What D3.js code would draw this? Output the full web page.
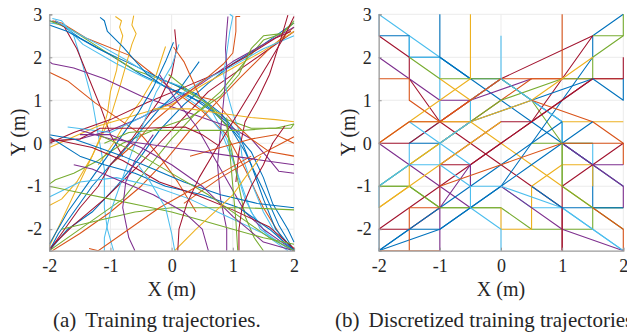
<!DOCTYPE html>
<html>
<head>
<meta charset="utf-8">
<script src="https://cdn.jsdelivr.net/npm/d3@7/dist/d3.min.js"></script>
<style>
  html, body { margin: 0; padding: 0; background: #fff; }
  svg { display: block; }
  text { font-family: "Liberation Serif", "Times New Roman", serif; fill: #262626; }
</style>
</head>
<body>
<div id="wrap"></div>
<script>
// matlab default line colours
const lineColors = { b: "#0072BD", o: "#D95319", y: "#EDB120", p: "#7E2F8E", g: "#77AC30", c: "#4DBEEE", r: "#A2142F" };

const xTicks = [-2, -1, 0, 1, 2];
const yTicks = [-2, -1, 0, 1, 2, 3];
const xDomain = [-2, 2];
const yDomain = [-2.5, 3];

// (a) recorded training trajectories, [x, y] in metres
const trainColors = ["b","o","c","g","c","r","b","c","y","y","y","b","p","o",
  "b","r","g","o","p","r","y","c","g","r","c","p","o","b","r","b","c","o","p","g",
  "g","y","o","o","r","p","b","b","c","r","p","g","g","g","y","r","p","p","r","g","o","c"];
const trainPaths = [
  [[-2,2.85],[-1.85,2.8],[-1.5,2.45],[-1.0,2.05],[-0.5,1.6],[0,1.25],[0.5,0.95],[0.9,0.5],[1.2,-0.2],[1.5,-1.1],[1.75,-1.9],[2,-2.5]],
  [[-1.95,2.85],[-1.8,2.8],[-1.4,2.45],[-0.7,2.05],[-0.3,1.6],[0.1,1.15],[0.5,0.75],[0.9,0.2],[1.2,-0.6],[1.5,-1.5],[1.8,-2.2],[2,-2.45]],
  [[-2,2.8],[-1.75,2.75],[-1.45,2.3],[-0.9,1.85],[-0.4,1.5],[0.1,1.2],[0.5,0.8],[0.8,0.3],[1.0,-0.4],[1.2,-1.3],[1.45,-2.0],[1.95,-2.5]],
  [[-2,2.85],[-1.65,2.65],[-1.1,2.15],[-0.6,1.7],[0,1.4],[0.5,1.0],[0.9,0.55],[1.3,0.35],[1.7,0.35],[2,0.45]],
  [[-1.95,2.9],[-1.8,2.85],[-1.6,2.5],[-1.45,1.8],[-1.3,1.0],[-1.2,0.2],[-1.1,-0.6],[-1.1,-1.5],[-1.05,-2.0],[-0.95,-2.5]],
  [[-1.9,2.85],[-1.75,2.7],[-1.55,2.2],[-1.35,1.5],[-1.15,0.8],[-1.0,0.2],[-0.8,-0.3]],
  [[-2,2.75],[-1.7,2.6],[-1.2,2.2],[-0.6,1.8],[-0.1,1.45],[0.4,1.15],[0.8,0.7],[1.1,0.2],[1.3,-0.5],[1.5,-1.3],[1.7,-2.0],[2,-2.5]],
  [[-1.9,2.85],[-1.6,2.6],[-1.2,2.3],[-0.7,1.9],[-0.3,1.55],[0.2,1.3],[0.6,0.9],[0.9,0.1],[1.1,-0.8],[1.3,-1.6],[1.6,-2.2],[1.9,-2.5]],
  [[-0.92,2.95],[-0.82,2.85],[-0.85,2.7],[-0.8,2.5],[-0.85,2.2],[-0.9,1.7],[-1.0,1.2],[-1.05,0.7],[-1.15,0.2],[-1.3,-0.3],[-1.55,-0.9],[-1.8,-1.3],[-2,-1.45]],
  [[-0.62,2.97],[-0.65,2.75],[-0.58,2.55],[-0.65,2.3],[-0.75,1.8],[-0.85,1.3],[-1.0,0.6],[-1.2,0.0],[-1.4,-0.6],[-1.6,-1.2],[-1.8,-1.8],[-2,-2.4]],
  [[-0.1,2.25],[-0.25,1.6],[-0.5,1.0],[-0.75,0.5],[-0.95,0],[-1.2,-0.5]],
  [[-1.17,2.93],[-1.1,2.85],[-1.05,2.6],[-0.8,2.25],[-0.4,1.6],[-0.1,1.3],[0.3,1.1],[0.7,0.7],[1.0,0.3],[1.3,-0.2],[1.5,-0.8],[1.65,-1.4],[1.9,-2.0],[2,-2.3]],
  [[-2,1.9],[-1.95,1.85],[-1.6,1.75],[-1.1,1.5],[-0.5,1.1],[0,0.85],[0.5,0.6],[1.0,0.35],[1.3,0.1],[1.55,-0.3],[1.75,-0.65],[2,-0.7]],
  [[-2,1.65],[-1.7,1.45],[-1.25,0.94],[-0.89,0.59],[-0.5,0.2],[-0.2,-0.3],[0.1,-0.9],[0.4,-1.6]],
  [[-2,-2.5],[-1.7,-2.0],[-1.3,-1.6],[-0.9,-1.0],[-0.5,-0.3],[-0.2,0.3],[0.2,0.9],[0.6,1.4],[1.0,1.85],[1.5,2.3],[2,2.8]],
  [[-2,-2.45],[-1.6,-1.9],[-1.1,-1.3],[-0.6,-0.6],[-0.2,0.0],[0.2,0.6],[0.6,1.2],[1.1,1.7],[1.5,2.1],[2,2.6]],
  [[-2,-2.5],[-1.4,-1.9],[-0.8,-1.3],[-0.4,-0.6],[0,0.1],[0.4,0.7],[0.8,1.2],[1.2,1.9],[1.5,2.4],[1.8,2.55],[2,2.8]],
  [[-1.95,-2.5],[-1.5,-2.1],[-1.0,-1.6],[-0.5,-1.0],[-0.1,-0.4],[0.3,0.3],[0.7,0.9],[1.1,1.5],[1.6,2.2],[2,2.7]],
  [[-2,0.05],[-1.5,0.1],[-1.0,0.3],[-0.5,0.6],[0,0.95],[0.5,1.4],[1.0,1.9],[1.5,2.3],[2,2.7]],
  [[-2,0.0],[-1.6,0.25],[-1.0,0.55],[-0.4,0.95],[0.2,1.3],[0.7,1.6],[1.2,2.0],[1.7,2.45],[1.95,2.6]],
  [[-2,-0.1],[-1.6,0.15],[-1.2,0.4],[-0.6,0.65],[0,0.9],[0.5,1.35],[1.0,1.75],[1.5,2.15],[2,2.6]],
  [[-1.7,0.38],[-1.0,0.25],[-0.5,0.6],[0,1.0],[0.5,1.45],[1.0,1.8],[1.5,2.2],[2,2.5]],
  [[-2,-0.95],[-1.9,-0.85],[-1.6,-0.7],[-1.2,-0.4],[-0.8,0.0],[-0.3,0.3],[0.3,0.6],[0.8,1.1],[1.1,1.6],[1.3,2.2],[1.5,2.5],[1.8,2.55],[2,2.85]],
  [[1.9,2.98],[1.8,2.5],[1.6,1.6],[1.4,1.0],[1.2,0.5],[1.1,-0.2],[1.05,-0.9]],
  [[0.95,3.0],[1.0,2.95],[0.95,2.6],[0.9,2.1],[0.85,1.6],[0.9,1.2],[1.0,0.7],[1.1,0.3],[1.15,-0.3],[1.3,-0.9],[1.5,-1.6],[1.7,-2.1],[1.95,-2.5]],
  [[0.92,2.95],[0.9,2.6],[0.88,2.2],[0.9,1.8],[0.85,1.0],[0.8,0.3],[0.75,-0.5],[0.8,-1.3],[0.9,-2.0],[0.9,-2.5]],
  [[1.12,2.95],[1.05,2.95],[1.05,2.6],[1.0,2.1],[0.85,1.85],[0.6,1.55],[0.2,1.1],[-0.3,0.5],[-0.6,0.0],[-1.0,-0.5]],
  [[-2,-2.5],[-1.85,-2.1],[-1.6,-1.6],[-1.3,-1.0],[-1.0,-0.5],[-0.8,-0.2],[-0.5,0.3],[-0.2,0.8],[0.1,1.2],[0.3,1.6],[0.45,1.9]],
  [[0.05,2.65],[0.08,2.2],[0.0,1.6],[-0.2,1.0],[-0.45,0.5],[-0.7,0.0],[-1.0,-0.5],[-1.2,-1.0],[-1.5,-1.5],[-1.75,-2.0],[-2,-2.5]],
  [[0.03,2.35],[-0.1,1.9],[-0.3,1.3],[-0.55,0.7],[-0.8,0.2],[-1.05,-0.3],[-1.35,-0.9],[-1.7,-1.6],[-2,-2.35]],
  [[0.12,2.3],[0.0,1.8],[-0.25,1.2],[-0.45,0.5],[-0.65,-0.2],[-0.8,-0.8],[-1.0,-1.6],[-1.1,-2.2],[-1.1,-2.5]],
  [[0.03,2.24],[0.2,1.9],[0.46,1.08],[0.7,1.0],[1.0,0.5],[1.3,0.1],[1.6,-0.2],[2,-0.3]],
  [[-0.2,1.6],[0.1,0.95],[0.4,0.4],[0.6,-0.1],[0.8,-0.6],[1.0,-1.1],[1.2,-1.6],[1.5,-2.0],[1.8,-2.3],[2,-2.5]],
  [[-0.05,1.6],[0.3,1.2],[0.6,0.9],[0.9,0.4],[1.0,-0.3],[1.1,-1.0],[1.2,-1.7],[1.35,-2.2],[1.5,-2.5]],
  [[-1.1,0.0],[-0.7,0.25],[-0.3,0.3],[0.3,0.3],[0.9,0.3],[1.2,0.3],[1.6,0.35],[1.95,0.35],[2,0.45]],
  [[-0.3,0.8],[0.3,0.8],[0.8,0.7],[1.3,0.6],[1.7,0.55],[2,0.5]],
  [[0.3,-0.3],[0.8,-0.1],[1.3,0.1],[1.7,0.2],[1.85,0.1],[2,0.0]],
  [[0.2,-1.4],[0.8,-0.8],[1.4,-0.3],[1.8,0.0],[2,0.15]],
  [[-2,0.05],[-1.5,0.1],[-1.17,0.35],[-0.5,0.35],[0.22,0.38],[0.5,0.2],[0.76,-0.05]],
  [[-1.5,0.3],[-1.0,0.1],[-0.5,0.0],[0,-0.1],[0.5,-0.2],[1.0,-0.3],[1.5,-0.4],[2,-0.5]],
  [[-2,0.2],[-1.6,0.1],[-1.2,-0.1],[-0.8,-0.3],[-0.3,-0.6],[0.2,-0.9],[0.8,-1.2],[1.4,-1.4],[2,-1.5]],
  [[2,-2.5],[1.6,-2.0],[1.1,-1.5],[0.5,-1.2],[-0.1,-1.0],[-0.6,-0.7],[-1.1,-0.5],[-1.5,-0.3],[-2,0.15]],
  [[2,-2.5],[1.5,-2.1],[0.9,-1.7],[0.3,-1.3],[-0.3,-1.0],[-0.9,-0.8],[-1.5,-0.9],[-2,-1.25]],
  [[2,-2.45],[1.6,-1.95],[1.0,-1.55],[0.4,-1.2],[-0.2,-0.9],[-0.8,-0.4],[-1.3,-0.1],[-1.8,0.05],[-2,0.1]],
  [[2,-2.5],[1.5,-2.3],[1.0,-1.7],[0.5,-1.0],[0.0,-0.5],[-0.5,-0.1],[-1.0,0.2],[-1.5,0.2]],
  [[2,-2.5],[1.6,-2.2],[1.2,-1.8],[0.6,-1.2],[0,-0.7],[-0.6,-0.2],[-1.2,0.2]],
  [[-1.8,-2.0],[-1.2,-1.8],[-0.6,-1.6],[0,-1.5],[0.6,-1.5],[1.2,-1.5],[2,-1.55]],
  [[-2,-1.0],[-1.5,-1.15],[-1.0,-1.3],[-0.5,-1.45],[0,-1.6],[0.5,-1.8],[1.0,-2.0],[1.5,-2.2],[2,-2.35]],
  [[0.05,-2.5],[0.4,-2.0],[0.7,-1.6],[1.0,-1.2],[1.2,-0.8],[1.46,-0.3]],
  [[0.1,-2.5],[0.12,-2.0],[0.25,-1.4],[0.45,-0.8],[0.7,-0.2],[1.0,0.5],[1.3,1.2],[1.6,1.9],[1.85,2.5],[2,2.95]],
  [[-0.6,-2.5],[-0.7,-2.2],[-0.8,-1.5],[-0.75,-0.9],[-0.6,-0.4],[-0.3,0.2]],
  [[0.6,-2.5],[0.5,-2.0],[0.2,-1.6],[-0.3,-1.2],[-0.8,-0.9],[-1.3,-0.6],[-1.6,-0.5]],
  [[1.1,-2.5],[1.1,-2.0],[1.15,-1.5],[1.3,-1.0],[1.5,-0.5],[1.65,0.0],[1.85,0.4]],
  [[1.08,-2.5],[1.05,-1.8],[1.0,-1.0],[0.95,-0.2],[0.9,0.6]],
  [[-1.35,-2.45],[-1.2,-2.5],[-0.7,-2.0],[-0.2,-1.5],[0.3,-1.1],[0.8,-0.7],[1.3,-0.3]],
  [[0.05,-2.5],[0.0,-2.1],[-0.1,-1.5],[-0.35,-0.9],[-0.55,-0.5]]
];

// (b) same trajectories snapped to the 0.5 m grid
const discColors = ["c","b","c","b","r","p","o","g","y","y","b","g","g","r","r","o","r","b","y","c","c","y","y","o","c","g","o","p","b","r","o","p","g","b","y","c","p","c","r","b","p","p","o","g","o","g","c","y"];
const discPaths = [
  [[-2,3],[-1.5,2.5],[-1,2],[-0.5,1.5]],
  [[-2,3],[-2,2.5],[-1.5,2.5],[-1.5,2],[-1,2],[-0.5,1.5],[0,1],[0.5,0.5],[1,0],[1.5,-0.5],[2,-1]],
  [[-1.5,2.5],[-1.5,2],[-1,2],[-1,0.5],[-1.5,0],[-1.5,-0.5],[-2,-1],[-2,-1.5]],
  [[-1,3],[-1,2],[-0.5,1.5],[0,1.5],[0.5,1],[1,0.5],[1,0],[1.5,-0.5],[1.5,-1.5],[2,-1.5]],
  [[-2,2.5],[-1.5,2],[-1.5,1.5],[-1,0.5],[-0.5,0],[0,-0.5],[0.5,-1],[1,-1.5],[1,-2.5]],
  [[-2,2],[-1.5,1.5],[-1,1],[-0.5,1],[0.5,1.5]],
  [[-2,1.5],[-1.5,1.5],[-1.5,1],[-1,0.5],[-0.5,0.5],[0,1],[0.5,1.5],[1,1.5],[1.5,1.5],[2,1.5]],
  [[-1.5,2],[-1,1.5],[-0.5,1.5],[0,1.5],[0.5,1],[1,0],[1,-0.5],[1,-1]],
  [[-0.5,3],[-0.5,1.5],[-1,1],[-1.5,0.5],[-2,0]],
  [[-1,1.5],[-0.5,1],[-0.5,0.5],[0,0],[0.5,-0.5],[1,-1],[1.5,-1.5]],
  [[2,3],[1.5,2.5],[1.5,2],[1,1],[0.5,0],[0,-1],[-0.5,-1.5],[-1,-2],[-2,-2.5]],
  [[2,3],[2,2.5],[1.5,2],[1.5,1.5],[1,1.5],[0,1],[-0.5,0.5],[-1,0],[-1.5,-0.5],[-2,-1],[-1.5,-1],[-1,-1.5],[0,-1.5]],
  [[1.5,2.5],[2,2.5]],
  [[1.5,2.5],[0,1.5],[-0.5,1],[-1,0.5],[-1.5,0],[-2,0]],
  [[1.5,2.5],[1,1.5],[0.5,0.5],[0,0],[-0.5,-0.5],[-1,-0.5],[-1,-1.5],[-1.5,-2],[-2,-2]],
  [[1,3],[1,1.5],[0,1.5],[-0.5,1],[-1,0.5]],
  [[2,2],[2,1.5],[1.5,1.5],[1,1],[0.5,0.5],[0,0.5],[-0.5,0],[-1,-0.5]],
  [[2,1.5],[2,1],[1.5,1.5],[0.5,1],[-0.5,0.5],[-1,0],[-1.5,0]],
  [[1.5,2],[1,1.5],[0.5,1],[-0.5,0.5],[-1,0],[-1.5,-0.5],[-1.5,-1],[-2,-1.5]],
  [[0,2.5],[0,1.5],[-0.5,1],[-0.5,0.5],[-1,0],[-1,-0.5]],
  [[0,1.5],[0.5,1],[1,0.5],[1,0],[1.5,0],[1.5,-0.5]],
  [[-1.5,0.5],[-0.5,0.5]],
  [[1,0.5],[2,0.5]],
  [[0.5,1],[1.5,0.5],[2,0],[2,-0.5]],
  [[-1.5,0.5],[-1,0],[-0.5,-0.5],[-0.5,-1],[0,-1],[0.5,-1.5],[1,-1.5],[2,-2.5]],
  [[0.5,0],[1.5,0]],
  [[-2,0],[-1.5,0.5],[-1,0.5],[-0.5,1],[0,1.5]],
  [[-2,0],[-1.5,-0.5],[-1,-1],[-0.5,-1.5]],
  [[-2,-2.5],[-1,-1.5],[-0.5,-1],[0,-0.5],[0.5,0],[1,0.5]],
  [[-2,-2],[-1.5,-1.5],[-1,-1],[-0.5,-0.5],[0,0],[0.5,0.5],[1,1],[1.5,1.5]],
  [[-1,-1.5],[-1.5,-1.5],[-1.5,-2.5],[-2,-2.5],[-1,-2.5]],
  [[-1,-2.5],[-1,-1.5],[-0.5,-0.5],[-0.5,-1]],
  [[-1,-1.5],[0,-1.5],[0.5,-2],[1.5,-2],[1.5,-1.5],[2,-1.5]],
  [[-2,-2],[-2,-2.5],[-1.5,-2],[-1,-2],[-0.5,-1.5],[0,-1],[0.5,-0.5],[1,0],[1.5,0.5]],
  [[0,-1.5],[0,-2],[0.5,-2],[0.5,-1],[1,-0.5],[1.5,-0.5],[1.5,-1]],
  [[0,-2.5],[0,-2],[-0.5,-1.5],[-0.5,-1],[-1,-0.5],[-1.5,-0.5],[-2,-1]],
  [[0,-1],[1,-2],[2,-2.5]],
  [[0,-1],[1,-1.5],[1.5,-2],[2,-2.5]],
  [[1,-2.5],[1,-1],[1.5,-0.5],[2,0]],
  [[0.5,-1],[1,-1.5],[2,-1.5]],
  [[1,0],[1.5,-0.5],[2,-0.5]],
  [[1.5,-0.5],[2,-1],[2,-1.5]],
  [[-1,-1],[0,-0.5],[1,0],[1.5,0],[2,0]],
  [[1,0],[1,-1],[1.5,-1.5],[2,-2]],
  [[1.5,-1.5],[2,-2],[2,-2.5]],
  [[-2,-1],[-1.5,-1],[-1,-1.5]],
  [[-2,-1],[-2,-1.5]],
  [[-2,-1.5],[-1.5,-1],[-1,-0.5],[-0.5,0],[0,0.5]]
];

const plotTop = 14.3, plotBottom = 250.7;

function drawPanel(svg, id, left, right, paths, colors, lw, yLabelX, tag, caption, captionX) {
  let x = d3.scaleLinear().domain(xDomain).range([left, right]);
  let y = d3.scaleLinear().domain(yDomain).range([plotBottom, plotTop]);
  let g = svg.append("g");

  // grid
  g.append("g").selectAll("line").data(xTicks).enter().append("line")
    .attr("x1", d => x(d)).attr("x2", d => x(d))
    .attr("y1", plotTop).attr("y2", plotBottom)
    .attr("stroke", "#ebebeb").attr("stroke-width", 1);
  g.append("g").selectAll("line").data(yTicks).enter().append("line")
    .attr("x1", left).attr("x2", right)
    .attr("y1", d => y(d)).attr("y2", d => y(d))
    .attr("stroke", "#ebebeb").attr("stroke-width", 1);

  // clip to the axes box
  svg.append("clipPath").attr("id", id)
    .append("rect").attr("x", left).attr("y", plotTop - 1)
    .attr("width", right - left + 1).attr("height", plotBottom - plotTop + 1);

  let line = d3.line().x(d => x(d[0])).y(d => y(d[1]));
  g.append("g").attr("clip-path", "url(#" + id + ")")
    .selectAll("path").data(paths).enter().append("path")
    .attr("d", line)
    .attr("fill", "none")
    .attr("stroke", (d, i) => lineColors[colors[i]])
    .attr("stroke-width", lw)
    .attr("stroke-linejoin", "round");

  // axes (left + bottom only), plain hyphen minus like the original
  let xAxis = d3.axisBottom(x).tickValues(xTicks).tickSize(-3).tickPadding(9).tickFormat(d => String(d));
  let yAxis = d3.axisLeft(y).tickValues(yTicks).tickSize(-3).tickPadding(7).tickFormat(d => String(d));
  let gx = g.append("g").attr("transform", "translate(0," + plotBottom + ")").call(xAxis);
  let gy = g.append("g").attr("transform", "translate(" + left + ",0)").call(yAxis);
  [gx, gy].forEach(a => {
    a.attr("font-family", "Liberation Serif").attr("font-size", 18);
    a.select(".domain").attr("stroke", "#9a9a9a").attr("stroke-width", 1.2);
    a.selectAll(".tick line").attr("stroke", "#9a9a9a");
    a.selectAll(".tick text").attr("fill", "#262626");
  });
  gx.selectAll(".tick line").filter(d => d === -2).remove();

  g.append("text").attr("x", x(0)).attr("y", 296)
    .attr("text-anchor", "middle").style("font-size", "20px").text("X (m)");
  g.append("text")
    .attr("transform", "translate(" + yLabelX + "," + (plotTop + plotBottom) / 2 + ") rotate(-90)")
    .attr("text-anchor", "middle").style("font-size", "20px").text("Y (m)");
  let cap = g.append("text").attr("x", captionX).attr("y", 327).style("font-size", "21px");
  cap.append("tspan").text(tag);
  cap.append("tspan").attr("dx", 9).text(caption);
}

let svg = d3.select("#wrap").append("svg").attr("width", 627).attr("height", 335);
drawPanel(svg, "clipA", 49.3, 294, trainPaths, trainColors, 1.05, 25, "(a)", "Training trajectories.", 53);
drawPanel(svg, "clipB", 378.7, 623.3, discPaths, discColors, 1.1, 355, "(b)", "Discretized training trajectories.", 335);
</script>
</body>
</html>
